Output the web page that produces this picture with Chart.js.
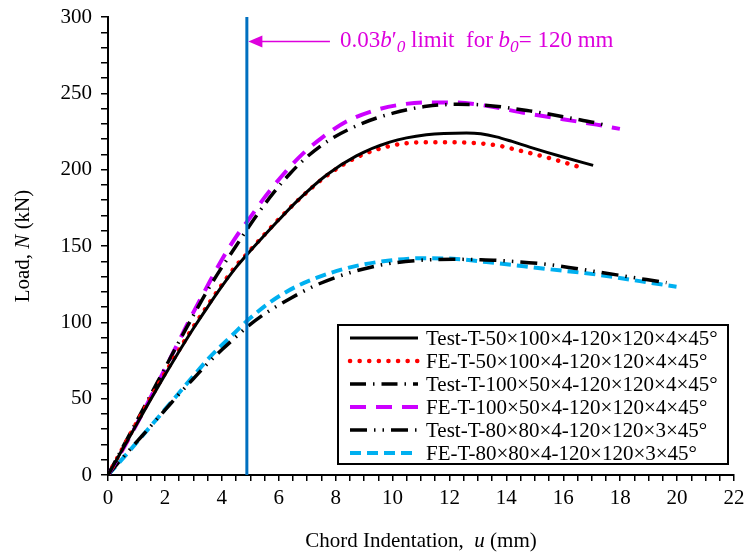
<!DOCTYPE html>
<html>
<head>
<meta charset="utf-8">
<script src="https://cdn.jsdelivr.net/npm/chart.js@4.4.0/dist/chart.umd.min.js"></script>
<style>
  html, body { margin: 0; padding: 0; background: #fff; }
  #wrap { width: 745px; height: 560px; }
</style>
</head>
<body>
<div id="wrap"><canvas id="chart" width="745" height="560"></canvas></div>
<script>
// Data (x = chord indentation in mm, y = load in kN)
const labels = [
  'Test-T-50×100×4-120×120×4×45°',
  'FE-T-50×100×4-120×120×4×45°',
  'Test-T-100×50×4-120×120×4×45°',
  'FE-T-100×50×4-120×120×4×45°',
  'Test-T-80×80×4-120×120×3×45°',
  'FE-T-80×80×4-120×120×3×45°'
];

const xTest1 = [0, 0.5, 1, 1.5, 2, 2.5, 3, 3.5, 4, 4.5, 4.89, 5.5, 6, 6.68, 7.68, 8.73, 9.9, 11.19, 12.6, 13.1, 13.65, 14.2, 14.82, 15.99, 17.05];
const yTest1 = [0, 16.5, 33, 49.5, 65.5, 81, 96, 110, 123.5, 136, 144.5, 157, 167, 180, 196.5, 209, 218, 222.8, 224, 223.5, 221.5, 218.5, 214.8, 208.3, 202.8];

const xFE1 = [0, 0.5, 1, 1.5, 2, 2.5, 3, 3.5, 4, 4.5, 4.89, 5.5, 6, 6.68, 7.68, 8.73, 9.9, 10.84, 11.66, 12.83, 13.65, 14.47, 15.53, 16.52];
const yFE1 = [0, 17, 34, 50.5, 66.5, 82, 97, 111, 124.5, 137, 145, 157.5, 167.5, 180, 196, 208, 215.5, 217.8, 218, 217.5, 216, 212.5, 207.5, 202];

const xTest2 = [0, 0.5, 1, 1.5, 2, 2.5, 3, 3.5, 4, 4.5, 4.89, 5.3, 5.8, 6.4, 6.97, 7.79, 8.96, 10.02, 11.19, 12.3, 13.06, 14.82, 16.35, 17.17, 17.6];
const yTest2 = [0, 17.5, 35, 52.5, 70, 87.5, 104.5, 121, 136, 150, 161, 172, 184.5, 197.5, 208, 219.5, 230.5, 237, 241.5, 242.8, 242.5, 238.5, 233.5, 230.5, 228.5];

const xFE2 = [0, 0.5, 1, 1.5, 2, 2.5, 3, 3.5, 4, 4.5, 4.89, 5.22, 5.51, 6.21, 6.85, 7.56, 8.38, 9.31, 10.25, 11.19, 12.2, 13.06, 14.82, 15.99, 17.17, 17.99];
const yFE2 = [0, 16, 33, 51, 69.5, 88, 106.5, 124, 141, 156, 166, 174.5, 182, 198, 210.5, 221.5, 231.5, 238.5, 242.5, 244, 244, 242.5, 236.5, 233, 229.5, 226.7];

const xTest3 = [0, 0.5, 1, 1.5, 2, 2.5, 3, 3.5, 4, 4.5, 4.89, 5.5, 6.39, 7.33, 8.5, 9.67, 10.84, 12.13, 13.06, 13.65, 15.41, 17.4, 18.92, 19.63];
const yTest3 = [0, 11, 21.5, 32, 42.5, 53, 63, 73, 82, 90.5, 97, 105.5, 115.5, 124.5, 132.5, 137.8, 140.5, 141.3, 141, 140.6, 138, 132.5, 128, 126];

const xFE3 = [0, 0.6, 1.11, 2.05, 2.87, 3.57, 4.39, 4.89, 5.68, 6.62, 7.68, 8.73, 9.9, 11.07, 12.25, 13.3, 15.41, 17.17, 18.69, 19.98];
const yFE3 = [0, 12.5, 23.5, 44, 62, 77, 92, 101, 113, 123.5, 131.5, 137, 140.5, 142, 141.5, 139.5, 135, 131.3, 127, 123.3];

// 0.03 b'0 limit for b0 = 120 mm
const limitX = 4.88;
const limitY = [0, 300];

const xTicks = { min: 0, max: 22, step: 0.5, labelEvery: 2 };
const yTicks = { min: 0, max: 300, step: 10, labelEvery: 50 };

const serif = "'Liberation Serif', 'Times New Roman', serif";

function pts(xs, ys) {
  return xs.map((x, i) => ({ x: x, y: ys[i] }));
}

const series = [
  { x: xTest1, y: yTest1, color: '#000000', dash: [], width: 3, cap: 'butt' },
  { x: xFE1, y: yFE1, color: '#ff0000', dash: [0.1, 9.5], width: 4.5, cap: 'round' },
  { x: xTest2, y: yTest2, color: '#000000', dash: [16, 7, 1.5, 7], width: 3.5, cap: 'butt' },
  { x: xFE2, y: yFE2, color: '#cc00ff', dash: [16, 10], width: 4, cap: 'butt' },
  { x: xTest3, y: yTest3, color: '#000000', dash: [17, 7, 1.5, 7, 1.5, 7], width: 3.5, cap: 'butt' },
  { x: xFE3, y: yFE3, color: '#00b0f0', dash: [11, 6], width: 4, cap: 'butt' }
];

const datasets = series.map((s, i) => ({
  label: labels[i],
  data: pts(s.x, s.y),
  borderColor: s.color,
  borderDash: s.dash,
  borderWidth: s.width,
  borderCapStyle: s.cap,
  pointRadius: 0,
  cubicInterpolationMode: 'monotone',
  fill: false
}));

datasets.push({
  label: 'limit',
  data: [{ x: limitX, y: limitY[0] }, { x: limitX, y: limitY[1] }],
  borderColor: '#0070c0',
  borderWidth: 3,
  pointRadius: 0,
  order: -1,
  fill: false
});

// draw a line of text with italic / subscript pieces
function drawRich(ctx, parts, x, y, size) {
  let cx = x;
  parts.forEach(p => {
    const fs = p.sub ? size * 0.75 : size;
    ctx.font = (p.i ? 'italic ' : '') + fs + 'px ' + serif;
    ctx.fillText(p.t, cx, p.sub ? y + size * 0.25 : y);
    cx += ctx.measureText(p.t).width;
  });
  return cx - x;
}
function richWidth(ctx, parts, size) {
  let w = 0;
  parts.forEach(p => {
    const fs = p.sub ? size * 0.75 : size;
    ctx.font = (p.i ? 'italic ' : '') + fs + 'px ' + serif;
    w += ctx.measureText(p.t).width;
  });
  return w;
}

const extras = {
  id: 'extras',
  afterDraw(chart) {
    const ctx = chart.ctx;
    const xs = chart.scales.x, ys = chart.scales.y;
    ctx.save();
    ctx.fillStyle = '#000';
    ctx.textBaseline = 'middle';

    // axis titles
    const xTitle = [{ t: 'Chord Indentation,  ' }, { t: 'u', i: true }, { t: ' (mm)' }];
    const xw = richWidth(ctx, xTitle, 21);
    drawRich(ctx, xTitle, (xs.left + xs.right) / 2 - xw / 2, 541, 21);

    const yTitle = [{ t: 'Load, ' }, { t: 'N', i: true }, { t: ' (kN)' }];
    const yw = richWidth(ctx, yTitle, 21);
    ctx.save();
    ctx.translate(23, (ys.top + ys.bottom) / 2);
    ctx.rotate(-Math.PI / 2);
    drawRich(ctx, yTitle, -yw / 2, 0, 21);
    ctx.restore();

    // arrow + note for the limit line
    const mag = '#dd00dd';
    const ay = ys.getPixelForValue(284);
    const tipX = xs.getPixelForValue(limitX) + 1.5;
    const startX = xs.getPixelForValue(7.8);
    ctx.strokeStyle = mag;
    ctx.fillStyle = mag;
    ctx.lineWidth = 1.5;
    ctx.beginPath();
    ctx.moveTo(startX, ay);
    ctx.lineTo(tipX + 12, ay);
    ctx.stroke();
    ctx.beginPath();
    ctx.moveTo(tipX, ay);
    ctx.lineTo(tipX + 14, ay - 6);
    ctx.lineTo(tipX + 14, ay + 6);
    ctx.closePath();
    ctx.fill();
    const note = [
      { t: '0.03' }, { t: 'b', i: true }, { t: '′' }, { t: '0', i: true, sub: true },
      { t: ' limit  for ' }, { t: 'b', i: true }, { t: '0', i: true, sub: true }, { t: '= 120 mm' }
    ];
    drawRich(ctx, note, xs.getPixelForValue(8.15), ay, 23);

    // legend box inside the plot
    const bx = 338, by = 325, bw = 390, bh = 139;
    ctx.fillStyle = '#fff';
    ctx.fillRect(bx, by, bw, bh);
    ctx.strokeStyle = '#000';
    ctx.lineWidth = 2;
    ctx.setLineDash([]);
    ctx.strokeRect(bx, by, bw, bh);
    chart.data.datasets.slice(0, labels.length).forEach((ds, i) => {
      const ly = by + 13 + i * 23;
      ctx.strokeStyle = ds.borderColor;
      ctx.lineWidth = ds.borderWidth;
      ctx.lineCap = ds.borderCapStyle;
      ctx.setLineDash(ds.borderDash);
      ctx.beginPath();
      ctx.moveTo(bx + 12, ly);
      ctx.lineTo(bx + 80, ly);
      ctx.stroke();
      ctx.setLineDash([]);
      ctx.lineCap = 'butt';
      ctx.fillStyle = '#000';
      ctx.font = '21px ' + serif;
      ctx.fillText(ds.label, bx + 88, ly + 1);
    });
    ctx.restore();
  }
};

new Chart(document.getElementById('chart'), {
  type: 'line',
  data: { datasets: datasets },
  options: {
    responsive: false,
    animation: false,
    devicePixelRatio: 1,
    layout: { padding: { left: 0, right: 11, top: 17, bottom: 0 } },
    plugins: { legend: { display: false }, tooltip: { enabled: false } },
    scales: {
      x: {
        type: 'linear',
        min: xTicks.min,
        max: xTicks.max,
        afterFit: s => { s.height = 85; s.paddingLeft = 0; s.paddingRight = 0; },
        border: { color: '#000', width: 2 },
        grid: { drawOnChartArea: false, drawTicks: true, tickLength: 6, color: '#000', lineWidth: 1.5 },
        ticks: {
          stepSize: xTicks.step,
          autoSkip: false,
          maxRotation: 0,
          padding: 5,
          color: '#000',
          font: { family: serif, size: 21 },
          callback: v => (v % xTicks.labelEvery === 0 ? v : '')
        }
      },
      y: {
        type: 'linear',
        min: yTicks.min,
        max: yTicks.max,
        afterFit: s => { s.width = 108; s.paddingTop = 0; s.paddingBottom = 0; },
        border: { color: '#000', width: 2 },
        grid: { drawOnChartArea: false, drawTicks: true, tickLength: 7, color: '#000', lineWidth: 1.5 },
        ticks: {
          stepSize: yTicks.step,
          autoSkip: false,
          padding: 9,
          color: '#000',
          font: { family: serif, size: 21 },
          callback: v => (v % yTicks.labelEvery === 0 ? v : '')
        }
      }
    }
  },
  plugins: [extras]
});
</script>
</body>
</html>
